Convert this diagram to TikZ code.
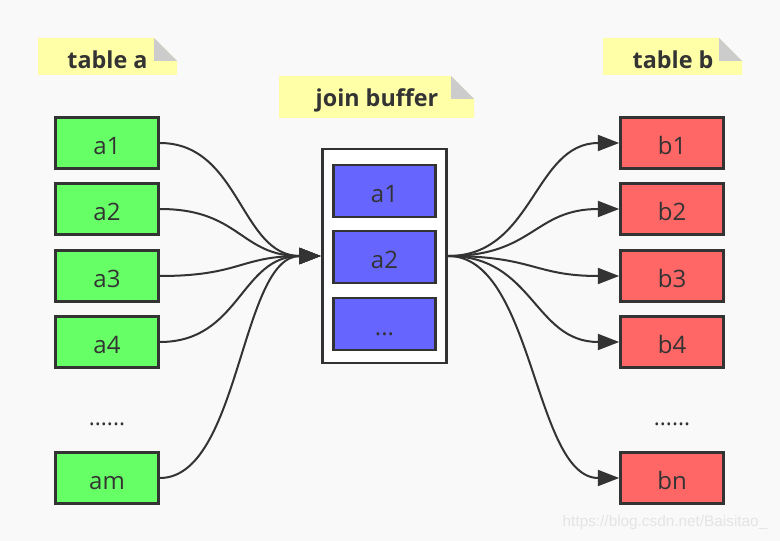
\documentclass[tikz,border=0pt]{standalone}
\usepackage{fontspec}
\setmainfont{Open Sans}
\newfontfamily\wmfont{Liberation Sans}
\usetikzlibrary{arrows.meta,calc}
\definecolor{bg}{HTML}{F9F9F9}
\definecolor{ink}{HTML}{333333}
\definecolor{agreen}{HTML}{66FF66}
\definecolor{bred}{HTML}{FF6666}
\definecolor{bufblue}{HTML}{6666FF}
\definecolor{noteyellow}{HTML}{FFFFA8}
\definecolor{foldgray}{HTML}{CCCCCC}
\definecolor{wm}{HTML}{E4E4E4}
\begin{document}
\begin{tikzpicture}[x=0.75pt,y=-0.75pt,
  itembox/.style={draw=ink,line width=2.2pt,minimum width=77pt,minimum height=38pt,inner sep=0pt,font=\fontsize{18}{20}\selectfont,text=ink,text height=17pt,text depth=0pt},
  abox/.style={itembox,fill=agreen},
  bbox/.style={itembox,fill=bred},
  cbox/.style={itembox,fill=bufblue,minimum height=39pt},
  conn/.style={draw=ink,line width=1.5pt,-{Triangle[length=16pt,width=12pt]}},
  notetext/.style={font=\bfseries\fontsize{17.5}{20}\selectfont,text=ink,inner sep=0pt},
  dotlabel/.style={font=\fontsize{17}{19}\selectfont,text=ink,inner sep=0pt}
]
\fill[bg] (0,0) rectangle (780,541);
\useasboundingbox (0,0) rectangle (780,541);

% notes
\newcommand{\mynote}[4]{%
  \fill[noteyellow] (#1,#2) -- (#3-23,#2) -- (#3,#2+23) -- (#3,#4) -- (#1,#4) -- cycle;
  \fill[foldgray] (#3-23,#2) -- (#3-23,#2+23) -- (#3,#2+23) -- cycle;
}
\mynote{38}{38}{177}{75}
\mynote{279}{76}{474}{118}
\mynote{603}{38}{742}{75}
\node[notetext] (ta) at (107.5,60) {table a};
\node[notetext] (jb) at (377,100.5) {join buffer};
\node[notetext] (tb) at (673,60) {table b};

% left boxes
\node[abox] (a1) at (107,143) {a1};
\node[abox] (a2) at (107,209) {a2};
\node[abox] (a3) at (107,276) {a3};
\node[abox] (a4) at (107,342) {a4};
\node[dotlabel] (adots) at (107,424) {......};
\node[abox] (am) at (107,478) {am};

% right boxes
\node[bbox] (b1) at (672,143) {b1};
\node[bbox] (b2) at (672,209) {b2};
\node[bbox] (b3) at (672,276) {b3};
\node[bbox] (b4) at (672,342) {b4};
\node[dotlabel] (bdots) at (672,424) {......};
\node[bbox] (bn) at (672,478) {bn};

% buffer
\node[draw=ink,line width=2.2pt,fill=white,minimum width=93.5pt,minimum height=160.5pt,inner sep=0pt] (buf) at (384.5,256) {};
\node[cbox] (c1) at (384.5,191) {a1};
\node[cbox] (c2) at (384.5,257) {a2};
\node[cbox] (c3) at (384.5,324) {...};

% connectors
\foreach \n in {a1,a2,a3,a4,am}{
  \draw[conn] (\n.east) .. controls ($(\n.east)!0.5!(buf.west|-\n.east)$) and ($(buf.west)!0.5!(\n.east|-buf.west)$) .. (buf.west);
}
\foreach \n in {b1,b2,b3,b4,bn}{
  \draw[conn] (buf.east) .. controls ($(buf.east)!0.5!(\n.west|-buf.east)$) and ($(\n.west)!0.5!(buf.east|-\n.west)$) .. (\n.west);
}

\node[font=\wmfont\fontsize{11.5}{13}\selectfont,text=wm,inner sep=0pt] (wmark) at (665,523) {https://blog.csdn.net/Baisitao\_};
\end{tikzpicture}
\end{document}
